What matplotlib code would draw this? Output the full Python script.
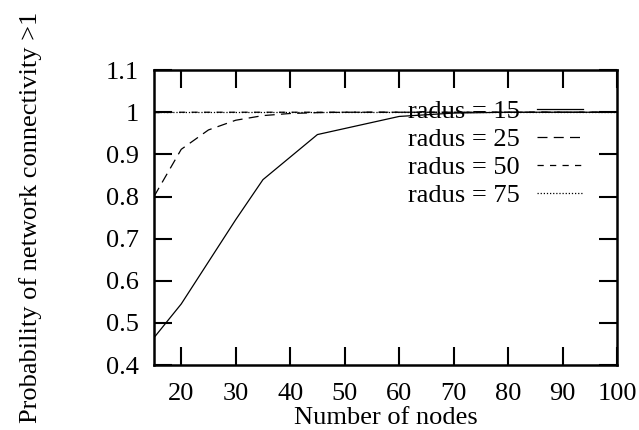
import matplotlib
matplotlib.use("Agg")
import matplotlib.pyplot as plt

plt.rcParams['font.family'] = ['Liberation Serif', 'DejaVu Serif']

x15 = [15, 20, 25, 30, 35, 45, 60, 70, 80, 90, 100]
y15 = [0.465, 0.545, 0.645, 0.745, 0.84, 0.947, 0.99, 0.998, 1.0, 1.0, 1.0]
x25 = [15, 20, 25, 30, 35, 40, 45, 50, 60, 70, 80, 90, 100]
y25 = [0.80, 0.912, 0.958, 0.981, 0.992, 0.997, 0.999, 1.0, 1.0, 1.0, 1.0, 1.0, 1.0]
x50 = [15, 20, 25, 30, 35, 40, 45, 50, 60, 70, 80, 90, 100]
y50 = [0.999, 1.0, 1.0, 1.0, 1.0, 1.0, 1.0, 1.0, 1.0, 1.0, 1.0, 1.0, 1.0]
x75 = [15, 20, 25, 30, 35, 40, 45, 50, 60, 70, 80, 90, 100]
y75 = [1.0, 1.0, 1.0, 1.0, 1.0, 1.0, 1.0, 1.0, 1.0, 1.0, 1.0, 1.0, 1.0]
labels = ["radus = 15", "radus = 25", "radus = 50", "radus = 75"]
xticks = [20, 30, 40, 50, 60, 70, 80, 90, 100]
yticks = [0.4, 0.5, 0.6, 0.7, 0.8, 0.9, 1.0, 1.1]
yticklabels = ["0.4", "0.5", "0.6", "0.7", "0.8", "0.9", "1", "1.1"]

fs = 19
fig = plt.figure(figsize=(6.39, 4.30), dpi=100)
ax = fig.add_axes([0.241, 0.151, 0.7246, 0.686])

lw = 0.9
ax.plot(x15, y15, color='black', lw=lw, linestyle='-', label=labels[0])
ax.plot(x25, y25, color='black', lw=lw, linestyle=(0, (8, 5)), label=labels[1])
ax.plot(x50, y50, color='black', lw=lw, linestyle=(0, (5, 5)), label=labels[2])
ax.plot(x75, y75, color='black', lw=lw, linestyle=(0, (1, 1.5)), label=labels[3])

ax.set_xlim(15, 100)
ax.set_ylim(0.4, 1.1)
ax.set_xticks(xticks)
ax.set_yticks(yticks)
ax.set_yticklabels(yticklabels)
ax.tick_params(direction='in', length=13, width=1.5, labelsize=fs,
               top=True, right=True, pad=13)
ax.tick_params(axis='y', pad=11)
for s in ax.spines.values():
    s.set_linewidth(1.8)

ax.set_xlabel("Number of nodes", fontsize=fs, labelpad=1.5)
ax.set_ylabel("Probability of network connectivity >1", fontsize=fs, labelpad=46)

leg = ax.legend(loc='upper right', bbox_to_anchor=(0.927, 0.9), frameon=False,
                markerfirst=False, fontsize=fs, handlelength=1.75,
                labelspacing=0.17, handletextpad=0.65, borderpad=0, borderaxespad=0)

fig.savefig("out.png", dpi=100)
